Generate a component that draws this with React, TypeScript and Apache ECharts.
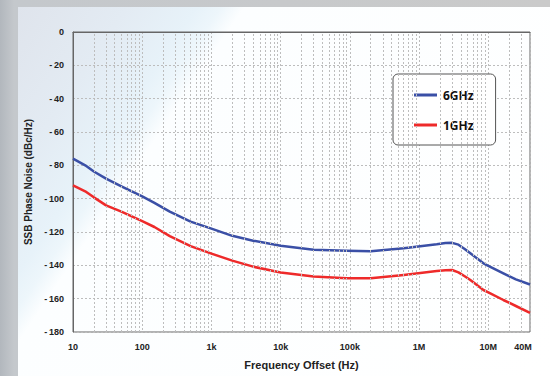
import React, { useEffect, useRef } from "react";
import * as echarts from "echarts";

const freqs = [10, 15, 20, 30, 50, 100, 150, 250, 500, 1e3, 2e3, 4e3, 1e4, 3e4, 9e4, 2e5, 6e5, 1.8e6, 2.4e6, 3e6, 3.7e6, 4.5e6, 5.5e6, 8.5e6, 1e7, 1.65e7, 2.5e7, 4e7];
const noise6GHz = [-76, -80, -83.7, -88, -92.6, -98.6, -102.5, -107.8, -113.8, -118, -122.3, -125.2, -128.2, -130.6, -131.3, -131.5, -129.8, -127.4, -126.6, -126.5, -127.6, -130, -132.8, -138.8, -140.3, -144.8, -148.4, -151.5];
const noise1GHz = [-92, -95.6, -99.2, -104, -107.8, -113.5, -117, -122.5, -128.5, -133, -137.2, -140.8, -144.3, -146.7, -147.8, -147.8, -145.8, -143.4, -142.9, -142.8, -144.2, -146.4, -148.8, -154.8, -156.2, -160.8, -164.4, -168.5];
const seriesNames = ["6GHz", "1GHz"];
const yTicks = { min: -180, max: 0, interval: 20 };
const xRange = { min: 10, max: 4e7 };

// minor vertical grid values (2..9 x each decade)
const minorGrid: number[] = [];
for (let d = 10; d < xRange.max; d *= 10) {
  for (let k = 2; k <= 9; k++) {
    const v = k * d;
    if (v < xRange.max) minorGrid.push(v);
  }
}

function fmtFreq(v: number): string {
  const r = Math.round(v);
  if (r >= 1e6) return Math.round(r / 1e6) + "M";
  if (r >= 1e3) return Math.round(r / 1e3) + "k";
  return String(r);
}

const FONT = "'Liberation Sans', Arial, sans-serif";

export default function App() {
  const ref = useRef<HTMLDivElement>(null);
  useEffect(() => {
    document.body.style.margin = "0";
    if (!ref.current) return;
    const chart = echarts.init(ref.current, null, { renderer: "svg" });
    const gridLine = { color: "#bdbdbd", width: 1, type: [2, 2] as number[] };
    chart.setOption({
      animation: false,
      backgroundColor: "transparent",
      grid: {
        left: 73,
        right: 20,
        top: 32,
        bottom: 44,
        show: true,
        borderColor: "#666",
        borderWidth: 1,
        backgroundColor: "transparent",
      },
      legend: {
        data: seriesNames,
        orient: "vertical",
        left: 393,
        top: 74,
        backgroundColor: "#ffffff",
        borderColor: "#555",
        borderWidth: 1,
        borderRadius: 5,
        padding: [15, 22, 14, 21],
        itemGap: 18,
        itemWidth: 23,
        itemHeight: 3,
        itemStyle: { borderWidth: 0 },
        icon: "rect",
        textStyle: {
          fontFamily: "'Open Sans', sans-serif",
          fontWeight: "bold",
          fontSize: 12,
          color: "#111",
          padding: [0, 0, 0, 1],
        },
      },
      xAxis: {
        type: "log",
        logBase: 10,
        min: xRange.min,
        max: xRange.max,
        name: "Frequency Offset (Hz)",
        nameLocation: "middle",
        nameGap: 27,
        nameTextStyle: { fontFamily: FONT, fontWeight: "bold", fontSize: 11, color: "#222" },
        axisLine: { show: true, lineStyle: { color: "#666", width: 1 } },
        axisTick: { show: false },
        axisLabel: {
          fontFamily: FONT,
          fontWeight: "bold",
          fontSize: 9,
          color: "#222",
          margin: 10,
          formatter: (v: number) => {
            const s = fmtFreq(v);
            return Math.round(v) >= xRange.max ? "{r|" + s + "}" : s;
          },
          rich: {
            r: { fontFamily: FONT, fontWeight: "bold", fontSize: 9, color: "#222", padding: [0, 14, 0, 0] },
          },
        },
        splitLine: { show: true, lineStyle: gridLine },
      },
      yAxis: {
        type: "value",
        min: yTicks.min,
        max: yTicks.max,
        interval: yTicks.interval,
        name: "SSB Phase Noise (dBc/Hz)",
        nameLocation: "middle",
        nameGap: 35,
        nameTextStyle: { fontFamily: FONT, fontWeight: "bold", fontSize: 10, color: "#222" },
        axisLine: { show: true, lineStyle: { color: "#666", width: 1 } },
        axisTick: { show: false },
        axisLabel: {
          fontFamily: FONT,
          fontWeight: "bold",
          fontSize: 9,
          color: "#222",
          margin: 9,
          formatter: (v: number) => (v < 0 ? "-\u2009" + Math.abs(v) : String(v)),
        },
        splitLine: { show: true, lineStyle: gridLine },
      },
      series: [
        {
          name: "minor-grid",
          type: "line",
          data: [],
          silent: true,
          z: 1,
          markLine: {
            silent: true,
            symbol: "none",
            label: { show: false },
            emphasis: { disabled: true },
            lineStyle: gridLine,
            data: minorGrid.map((v) => ({ xAxis: v })),
          },
        },
        {
          name: seriesNames[0],
          type: "line",
          data: freqs.map((f, i) => [f, noise6GHz[i]]),
          showSymbol: false,
          smooth: false,
          z: 3,
          color: "#3a4fa6",
          lineStyle: { width: 2.5, color: "#3a4fa6", join: "round" },
        },
        {
          name: seriesNames[1],
          type: "line",
          data: freqs.map((f, i) => [f, noise1GHz[i]]),
          showSymbol: false,
          smooth: false,
          z: 3,
          color: "#ee2a2a",
          lineStyle: { width: 2.5, color: "#ee2a2a", join: "round" },
        },
      ],
    });
    return () => chart.dispose();
  }, []);

  return (
    <div
      style={{
        position: "relative",
        width: 550,
        height: 376,
        overflow: "hidden",
        background: "linear-gradient(to right, #b2b7bd 0px, #c4c8cc 14px, #cacaca 100%)",
      }}
    >
      <div
        style={{
          position: "absolute",
          left: 18,
          top: 7,
          width: 532,
          height: 369,
          background:
            "linear-gradient(124deg, #dfe4ec 0%, #e3ebf3 14%, #e7f2f9 23%, #edf6fb 26%, #fcfeff 29%, #ffffff 100%)",
        }}
      />
      <div ref={ref} style={{ position: "absolute", left: 0, top: 0, width: 550, height: 376 }} />
    </div>
  );
}
